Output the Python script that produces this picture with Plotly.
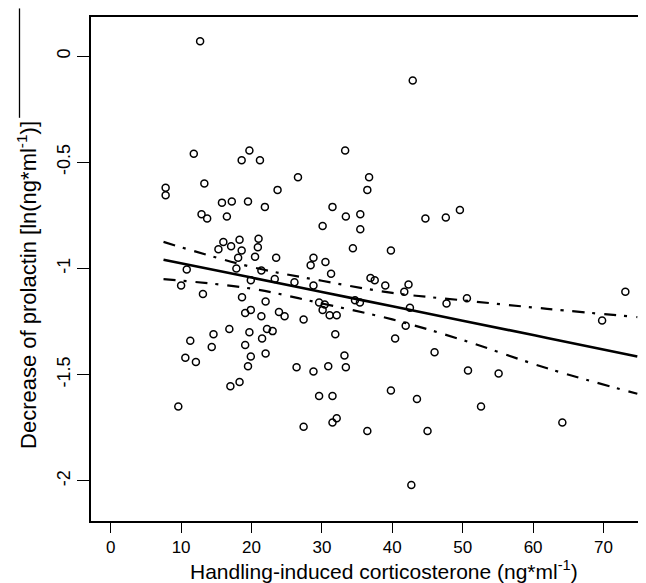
import plotly.graph_objects as go

# Scatter data (corticosterone ng/ml, decrease of prolactin ln(ng/ml))
cort = [12.7, 7.8, 7.8, 11.8, 19.7, 18.6, 21.2, 13.3, 15.8, 17.2, 19.5, 21.9, 12.9, 13.7, 16.5,
        16.0, 17.1, 18.3, 21.0, 15.3, 18.6, 20.9,
        18.1, 20.5, 10.8, 17.85, 21.4, 10.0, 19.9, 13.1, 18.65, 22.0, 19.9, 19.1, 21.4, 16.85,
        22.2, 19.7, 14.6, 11.3, 19.1, 21.5, 14.35, 22.0, 10.6, 12.1, 19.9, 19.5, 17.0, 18.3, 9.6,
        42.9, 33.3, 26.6, 36.7, 23.7, 36.45, 31.5, 33.4, 35.45, 30.1, 35.45, 44.7, 47.6, 49.6,
        34.4, 39.8,
        23.5, 28.8, 28.4, 30.5, 23.3, 31.3, 26.1, 28.8, 36.9, 37.5, 39.0, 42.3, 41.7, 47.7, 29.6,
        30.4, 30.1, 31.1, 32.1, 34.7, 35.4, 42.5, 23.9, 24.7, 27.4, 41.9, 23.0, 31.9, 40.4, 46.0,
        33.2, 26.4, 28.8, 30.9, 33.4, 39.8, 43.5, 29.6, 31.5, 32.1, 31.5, 27.4, 36.45, 45.0, 42.7,
        50.6, 73.1, 69.8, 50.75, 55.1, 52.6, 64.15]
prl = [0.07, -0.62, -0.655, -0.46, -0.445, -0.49, -0.49, -0.60, -0.69, -0.685, -0.685, -0.71,
       -0.745, -0.765, -0.755, -0.875, -0.895, -0.865, -0.86, -0.91, -0.915, -0.90,
       -0.95, -0.945, -1.005, -1.0, -1.01, -1.08, -1.055, -1.12, -1.135, -1.155, -1.195, -1.21,
       -1.225, -1.285, -1.285, -1.30, -1.31, -1.34, -1.36, -1.33, -1.37, -1.40, -1.42, -1.44,
       -1.415, -1.46, -1.555, -1.535, -1.65,
       -0.115, -0.445, -0.57, -0.57, -0.63, -0.63, -0.71, -0.755, -0.745, -0.80, -0.815, -0.765,
       -0.76, -0.725, -0.905, -0.915,
       -0.95, -0.95, -0.985, -0.97, -1.05, -1.025, -1.065, -1.08, -1.045, -1.055, -1.08, -1.075,
       -1.11, -1.165, -1.16, -1.17, -1.195, -1.22, -1.22, -1.15, -1.16, -1.185, -1.205, -1.225,
       -1.24, -1.27, -1.295, -1.31, -1.33, -1.395, -1.41, -1.465, -1.485, -1.46, -1.465, -1.575,
       -1.615, -1.60, -1.60, -1.705, -1.725, -1.745, -1.765, -1.765, -2.02,
       -1.14, -1.11, -1.245, -1.48, -1.495, -1.65, -1.725]

# Regression line and confidence band
line_x = [7.5, 20, 30, 40, 50, 62, 74.8]
fit_y = [-0.959, -1.043, -1.111, -1.178, -1.246, -1.327, -1.414]
upper_y = [-0.875, -0.993, -1.058, -1.115, -1.150, -1.190, -1.229]
lower_y = [-1.050, -1.095, -1.165, -1.240, -1.337, -1.470, -1.590]

x_ticks = [0, 10, 20, 30, 40, 50, 60, 70]
y_ticks = [0, -0.5, -1, -1.5, -2]
y_ticktext = ["0", "-0.5", "-1", "-1.5", "-2"]

FONT = "Liberation Sans, Arial, sans-serif"

fig = go.Figure()
fig.add_trace(go.Scatter(x=cort, y=prl, mode="markers",
                         marker=dict(symbol="circle-open", size=7, color="black",
                                     line=dict(width=1.5, color="black")),
                         hoverinfo="x+y"))
fig.add_trace(go.Scatter(x=line_x, y=fit_y, mode="lines",
                         line=dict(color="black", width=2.6, shape="spline")))
for yy in (upper_y, lower_y):
    fig.add_trace(go.Scatter(x=line_x, y=yy, mode="lines",
                             line=dict(color="black", width=2.2, shape="spline",
                                       dash="12px,8px,3px,9px")))

fig.update_layout(
    width=646, height=583,
    margin=dict(l=83, r=0, t=9, b=70),
    plot_bgcolor="white", paper_bgcolor="white",
    showlegend=False,
    font=dict(family=FONT, color="black", size=17),
    xaxis=dict(range=[-2.8, 77.17], tickvals=x_ticks, ticks="outside", ticklen=10,
               tickwidth=1.4, tickcolor="black", showline=True, linecolor="black",
               linewidth=2, mirror=True, showgrid=False, zeroline=False,
               tickfont=dict(size=17, family=FONT)),
    yaxis=dict(range=[-2.189, 0.184], tickvals=y_ticks, ticktext=y_ticktext,
               ticks="outside", ticklen=12, tickwidth=1.4, tickcolor="black",
               showline=True, linecolor="black", linewidth=2, mirror=False,
               showgrid=False, zeroline=False, tickangle=-90,
               tickfont=dict(size=18, family=FONT)),
    annotations=[
        dict(text="Handling-induced corticosterone (ng*ml<sup>-1</sup>)",
             xref="paper", yref="paper", x=0.52, y=-0.127,
             xanchor="center", yanchor="bottom", showarrow=False,
             font=dict(size=21, family=FONT)),
        dict(text="Decrease of prolactin [ln(ng*ml<sup>-1</sup>)]",
             xref="paper", yref="paper", x=-0.114, y=0.468, textangle=-90,
             xanchor="center", yanchor="middle", showarrow=False,
             font=dict(size=22, family=FONT)),
    ],
    shapes=[
        dict(type="line", xref="paper", yref="paper", x0=-0.127, x1=-0.127,
             y0=1.017, y1=0.80, line=dict(color="black", width=1.3)),
    ],
)

fig.write_html("out.html")
